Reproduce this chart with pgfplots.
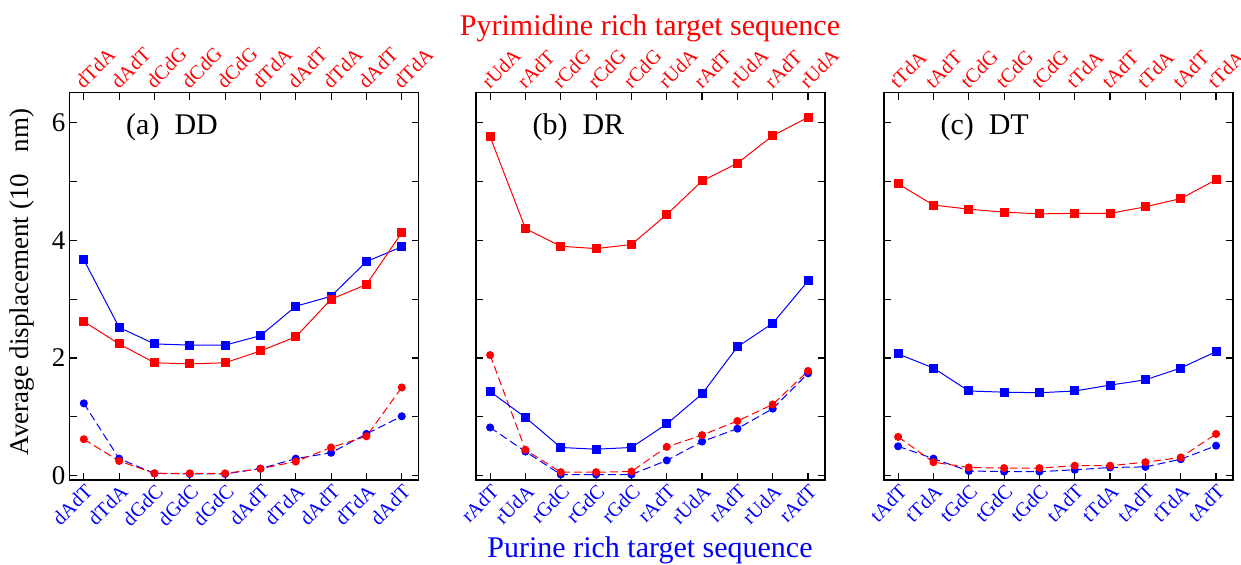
\documentclass[border=0pt]{standalone}
\usepackage{fontspec}
\setmainfont{Liberation Serif}
\usepackage{pgfplots}
\pgfplotsset{compat=1.18}
\definecolor{cred}{RGB}{255,0,0}
\definecolor{cblue}{RGB}{0,0,255}

\pgfplotsset{
 panel/.style={
   scale only axis, width=174.5pt, height=193.65pt,
   anchor=south west,
   xmin=-0.4, xmax=9.48, ymin=-0.073, ymax=6.51,
   xtick={0,...,9}, ytick={0,...,6},
   tick align=inside, major tick length=3.5pt,
   axis line style={line width=0.7pt},
   every tick/.style={line width=0.6pt,black},
   /pgf/number format/assume math mode=true,
   xticklabel style={font=\fontsize{10}{12}\selectfont, text=cblue, rotate=45, anchor=north east, inner sep=1pt},
   yticklabel style={font=\fontsize{13.5}{15}\selectfont, inner sep=2pt},
   clip=false,
 },
 toppanel/.style={
   scale only axis, width=174.5pt, height=193.65pt,
   anchor=south west,
   xmin=-0.4, xmax=9.48, ymin=-0.073, ymax=6.51,
   xtick={0,...,9}, ytick=\empty,
   xticklabel pos=upper,
   axis line style={draw=none},
   major tick length=0pt,
   xticklabel style={font=\fontsize{10}{12}\selectfont, text=cred, rotate=45, anchor=south west, inner sep=1pt},
 },
 solidsq/.style={line width=0.5pt, mark=square*, mark size=2pt},
 dashcirc/.style={line width=0.5pt, dash pattern=on 4pt off 2pt, mark=*, mark size=1.75pt, mark options={solid}},
}

\begin{document}
\begin{tikzpicture}
\path[use as bounding box] (0,0) rectangle (620.5pt,282pt);

% ---------------- Panel (a) DD ----------------
\begin{axis}[panel, at={(34.85pt,42pt)},
  xticklabels={dAdT,dTdA,dGdC,dGdC,dGdC,dAdT,dTdA,dAdT,dTdA,dAdT},
  yticklabels={0,,2,,4,,6}]
\addplot[cblue, dashcirc] coordinates {(0,1.23) (1,0.29) (2,0.04) (3,0.03) (4,0.03) (5,0.12) (6,0.29) (7,0.39) (8,0.71) (9,1.01)};
\addplot[cred, dashcirc] coordinates {(0,0.62) (1,0.25) (2,0.04) (3,0.04) (4,0.04) (5,0.12) (6,0.24) (7,0.48) (8,0.67) (9,1.50)};
\addplot[cblue, solidsq] coordinates {(0,3.67) (1,2.52) (2,2.24) (3,2.22) (4,2.22) (5,2.38) (6,2.88) (7,3.05) (8,3.64) (9,3.89)};
\addplot[cred, solidsq] coordinates {(0,2.62) (1,2.24) (2,1.92) (3,1.90) (4,1.92) (5,2.12) (6,2.36) (7,3.00) (8,3.25) (9,4.13)};
\node[anchor=base west, font=\fontsize{15}{18}\selectfont] at (axis cs:1,5.8) {(a)\ \ DD};
\end{axis}
\begin{axis}[toppanel, at={(34.85pt,42pt)},
  xticklabels={dTdA,dAdT,dCdG,dCdG,dCdG,dTdA,dAdT,dTdA,dAdT,dTdA}]
\end{axis}

% ---------------- Panel (b) DR ----------------
\begin{axis}[panel, at={(238pt,42pt)},
  xticklabels={rAdT,rUdA,rGdC,rGdC,rGdC,rAdT,rUdA,rAdT,rUdA,rAdT},
  yticklabels={}]
\addplot[cblue, dashcirc] coordinates {(0,0.82) (1,0.41) (2,0.02) (3,0.02) (4,0.02) (5,0.26) (6,0.58) (7,0.80) (8,1.14) (9,1.74)};
\addplot[cred, dashcirc] coordinates {(0,2.05) (1,0.44) (2,0.06) (3,0.06) (4,0.07) (5,0.49) (6,0.69) (7,0.93) (8,1.21) (9,1.78)};
\addplot[cblue, solidsq] coordinates {(0,1.43) (1,0.99) (2,0.48) (3,0.45) (4,0.48) (5,0.88) (6,1.39) (7,2.19) (8,2.59) (9,3.31)};
\addplot[cred, solidsq] coordinates {(0,5.76) (1,4.20) (2,3.90) (3,3.86) (4,3.93) (5,4.44) (6,5.01) (7,5.31) (8,5.78) (9,6.09)};
\node[anchor=base west, font=\fontsize{15}{18}\selectfont] at (axis cs:1,5.8) {(b)\ \ DR};
\end{axis}
\begin{axis}[toppanel, at={(238pt,42pt)},
  xticklabels={rUdA,rAdT,rCdG,rCdG,rCdG,rUdA,rAdT,rUdA,rAdT,rUdA}]
\end{axis}

% ---------------- Panel (c) DT ----------------
\begin{axis}[panel, at={(442pt,42pt)},
  xticklabels={tAdT,tTdA,tGdC,tGdC,tGdC,tAdT,tTdA,tAdT,tTdA,tAdT},
  yticklabels={}]
\addplot[cblue, dashcirc] coordinates {(0,0.50) (1,0.29) (2,0.08) (3,0.07) (4,0.07) (5,0.10) (6,0.14) (7,0.15) (8,0.28) (9,0.51)};
\addplot[cred, dashcirc] coordinates {(0,0.66) (1,0.23) (2,0.14) (3,0.13) (4,0.13) (5,0.17) (6,0.17) (7,0.23) (8,0.31) (9,0.71)};
\addplot[cblue, solidsq] coordinates {(0,2.07) (1,1.83) (2,1.44) (3,1.42) (4,1.41) (5,1.44) (6,1.54) (7,1.63) (8,1.83) (9,2.11)};
\addplot[cred, solidsq] coordinates {(0,4.96) (1,4.60) (2,4.53) (3,4.48) (4,4.45) (5,4.46) (6,4.46) (7,4.57) (8,4.71) (9,5.03)};
\node[anchor=base west, font=\fontsize{15}{18}\selectfont] at (axis cs:1,5.8) {(c)\ \ DT};
\end{axis}
\begin{axis}[toppanel, at={(442pt,42pt)},
  xticklabels={tTdA,tAdT,tCdG,tCdG,tCdG,tTdA,tAdT,tTdA,tAdT,tTdA}]
\end{axis}

% ---------------- Labels ----------------
\node[rotate=90, font=\fontsize{13.5}{16}\selectfont] at (11pt,141pt) {Average displacement (10\hspace{0.8em}nm)};
\node[anchor=base, text=cred, font=\fontsize{15}{18}\selectfont] at (325pt,264.5pt) {Pyrimidine rich target sequence};
\node[anchor=base, text=cblue, font=\fontsize{15}{18}\selectfont] at (325pt,3.5pt) {Purine rich target sequence};
\end{tikzpicture}
\end{document}
